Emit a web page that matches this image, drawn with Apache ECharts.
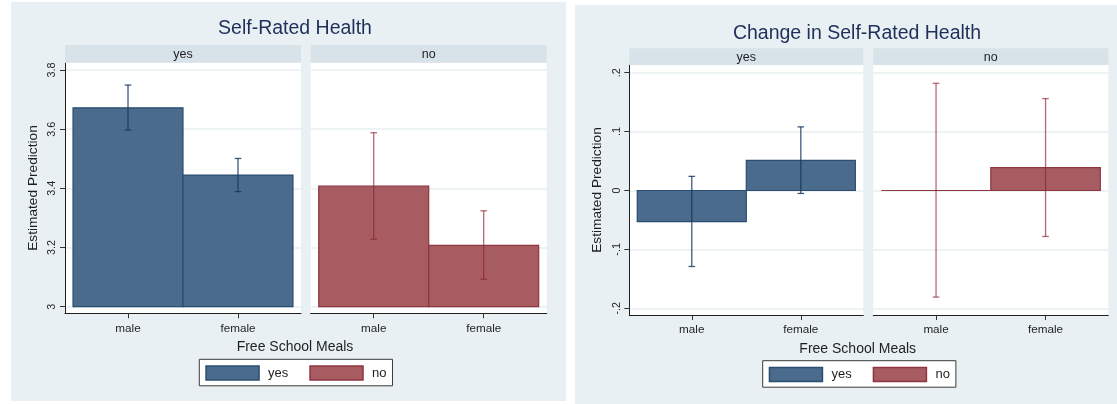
<!DOCTYPE html>
<html><head><meta charset="utf-8">
<script src="https://cdn.jsdelivr.net/npm/echarts@6/dist/echarts.min.js"></script>
<style>html,body{margin:0;padding:0;background:#fff}#c{width:1117px;height:404px}</style>
</head><body><div id="c"></div>
<script>
// ---------- data ----------
const categories = ['male', 'female'];
const groups = ['yes', 'no'];
const srhYesMean = [3.672, 3.445];
const srhYesLow  = [3.597, 3.389];
const srhYesHigh = [3.749, 3.501];
const srhNoMean  = [3.408, 3.207];
const srhNoLow   = [3.228, 3.093];
const srhNoHigh  = [3.588, 3.324];
const chgYesMean = [-0.053, 0.051];
const chgYesLow  = [-0.129, -0.005];
const chgYesHigh = [0.024, 0.108];
const chgNoMean  = [0.000, 0.039];
const chgNoLow   = [-0.181, -0.078];
const chgNoHigh  = [0.182, 0.156];
const srhTicks = [3, 3.2, 3.4, 3.6, 3.8];
const chgTicks = [-0.2, -0.1, 0, 0.1, 0.2];
const srhBase = 3;
const chgBase = 0;
const chartTitles = ['Self-Rated Health', 'Change in Self-Rated Health'];
const yTitle = 'Estimated Prediction';
const xTitle = 'Free School Meals';

// ---------- style / layout ----------
const FONT = '"Liberation Sans", Arial, Helvetica, sans-serif';
const BG = '#e8f0f3', STRIP = '#d7e3e9', GRIDLINE = '#e7eff2', INK = '#1f1f1f';
const COLORS = {
  yes: { fill: '#4a6b8b', edge: '#2b4d71', err: 'rgba(20,55,95,0.82)' },
  no:  { fill: '#a65c61', edge: '#8f3441', err: 'rgba(140,35,50,0.68)' }
};
const XPAD = 0.573;

const charts = [
  { title: chartTitles[0], bg: [11, 2, 555, 399], titleX: 295, titleY: 30,
    panels: [{ x: 65, w: 236 }, { x: 310.7, w: 236 }],
    stripTop: 45, plotTop: 62.7, plotBottom: 313.3, tickTopPx: 70, tickBottomPx: 306.7,
    ticks: srhTicks, base: srhBase,
    data: [[srhYesMean, srhYesLow, srhYesHigh], [srhNoMean, srhNoLow, srhNoHigh]],
    fmt: v => String(v), xTitleX: 295, xTitleY: 346.7, legend: [199.3, 359.3] },
  { title: chartTitles[1], bg: [575, 5, 542, 399], titleX: 857, titleY: 34.5,
    panels: [{ x: 629.3, w: 234 }, { x: 873.3, w: 235 }],
    stripTop: 48.3, plotTop: 65, plotBottom: 315, tickTopPx: 72.7, tickBottomPx: 308.3,
    ticks: chgTicks, base: chgBase,
    data: [[chgYesMean, chgYesLow, chgYesHigh], [chgNoMean, chgNoLow, chgNoHigh]],
    fmt: v => (v === 0 ? '0' : String(v).replace('0.', '.')), xTitleX: 857.7, xTitleY: 349.3, legend: [762.7, 360.7] }
];

const grid = [], xAxis = [], yAxis = [], series = [], graphic = [], title = [], legend = [];

charts.forEach((ch, ci) => {
  graphic.push({ type: 'rect', z: -5, shape: { x: ch.bg[0], y: ch.bg[1], width: ch.bg[2], height: ch.bg[3] }, style: { fill: BG } });
  title.push({ text: ch.title, left: ch.titleX, top: ch.titleY - 11, textAlign: 'center', padding: 0,
    textStyle: { fontSize: 19.5, fontWeight: 'normal', color: '#1e2f5a', fontFamily: FONT } });
  graphic.push({ type: 'text', z: 5, style: { x: ch.xTitleX, y: ch.xTitleY, text: xTitle, align: 'center', verticalAlign: 'middle',
    fontSize: 14, fontFamily: FONT, fill: INK } });

  const t0 = ch.ticks[0], t1 = ch.ticks[ch.ticks.length - 1];
  const ppu = (ch.tickBottomPx - ch.tickTopPx) / (t1 - t0);
  const yMax = t1 + (ch.tickTopPx - ch.plotTop) / ppu;
  const yMin = t0 - (ch.plotBottom - ch.tickBottomPx) / ppu;

  ch.panels.forEach((pn, p) => {
    const idx = grid.length;
    const g = groups[p];
    const col = COLORS[g];
    graphic.push({ type: 'rect', z: 5, shape: { x: pn.x, y: ch.stripTop, width: pn.w, height: ch.plotTop - ch.stripTop }, style: { fill: STRIP } });
    graphic.push({ type: 'text', z: 6, style: { x: pn.x + pn.w / 2, y: (ch.stripTop + ch.plotTop) / 2 + 0.5, text: g, align: 'center', verticalAlign: 'middle',
      fontSize: 12.5, fontFamily: FONT, fill: INK } });
    grid.push({ left: pn.x, top: ch.plotTop, width: pn.w, height: ch.plotBottom - ch.plotTop,
      show: true, backgroundColor: '#ffffff', borderWidth: 0, containLabel: false });
    xAxis.push({ type: 'value', gridIndex: idx, min: -XPAD, max: 1 + XPAD,
      axisLine: { show: true, onZero: false, lineStyle: { color: INK, width: 1 } },
      axisTick: { show: true, customValues: [0, 1], length: 5, lineStyle: { color: '#333', width: 1 } },
      axisLabel: { show: true, customValues: [0, 1], formatter: v => categories[Math.round(v)], margin: 9,
        fontSize: 11.7, color: INK, fontFamily: FONT },
      splitLine: { show: false } });
    yAxis.push({ type: 'value', gridIndex: idx, min: yMin, max: yMax,
      axisLine: { show: p === 0, onZero: false, lineStyle: { color: INK, width: 1 } },
      axisTick: { show: p === 0, customValues: ch.ticks, length: 5, lineStyle: { color: '#333', width: 1 } },
      axisLabel: { show: p === 0, customValues: ch.ticks, rotate: 90, margin: 7, fontSize: 10.8, color: INK, fontFamily: FONT,
        formatter: ch.fmt },
      splitLine: { show: true, lineStyle: { color: GRIDLINE, width: 1.5 } },
      name: p === 0 ? yTitle : '', nameLocation: 'middle', nameRotate: 90, nameGap: 25,
      nameTextStyle: { fontSize: 13.7, color: INK, fontFamily: FONT } });
    const [mean, low, high] = ch.data[p];
    const base = ch.base;
    series.push({ type: 'custom', name: g, xAxisIndex: idx, yAxisIndex: idx,
      data: categories.map((c, i) => [i, mean[i], low[i], high[i]]),
      encode: { x: 0, y: [1, 2, 3] },
      itemStyle: { color: col.fill, borderColor: col.edge, borderWidth: 1.2 },
      renderItem: (params, api) => {
        const i = api.value(0), v = api.value(1), lo = api.value(2), hi = api.value(3);
        const a = api.coord([i - 0.5, base]), b = api.coord([i + 0.5, v]);
        const lp = api.coord([i, lo]), hp = api.coord([i, hi]);
        const cap = 3.3;
        return { type: 'group', children: [
          { type: 'rect', shape: { x: Math.min(a[0], b[0]), y: Math.min(a[1], b[1]), width: Math.abs(b[0] - a[0]), height: Math.abs(b[1] - a[1]) },
            style: { fill: col.fill, stroke: col.edge, lineWidth: 1.2 } },
          { type: 'line', shape: { x1: lp[0], y1: lp[1], x2: hp[0], y2: hp[1] }, style: { stroke: col.err, lineWidth: 1.3 } },
          { type: 'line', shape: { x1: lp[0] - cap, y1: lp[1], x2: lp[0] + cap, y2: lp[1] }, style: { stroke: col.err, lineWidth: 1.3 } },
          { type: 'line', shape: { x1: hp[0] - cap, y1: hp[1], x2: hp[0] + cap, y2: hp[1] }, style: { stroke: col.err, lineWidth: 1.3 } }
        ] };
      } });
  });

  legend.push({ left: ch.legend[0], top: ch.legend[1], orient: 'horizontal', selectedMode: false,
    itemWidth: 53, itemHeight: 14, itemGap: 21, padding: [6, 6, 5, 6], backgroundColor: '#ffffff',
    borderColor: '#3a3a3a', borderWidth: 1, borderRadius: 0, icon: 'rect',
    textStyle: { fontSize: 13, color: INK, fontFamily: FONT, padding: [0, 0, 0, 4] },
    data: groups.map(g => ({ name: g, itemStyle: { color: COLORS[g].fill, borderColor: COLORS[g].edge, borderWidth: 1.5 } })) });
});

const chart = echarts.init(document.getElementById('c'), null, { renderer: 'canvas' });
chart.setOption({ animation: false, backgroundColor: '#ffffff', title, legend, grid, xAxis, yAxis, series, graphic });
</script></body></html>
